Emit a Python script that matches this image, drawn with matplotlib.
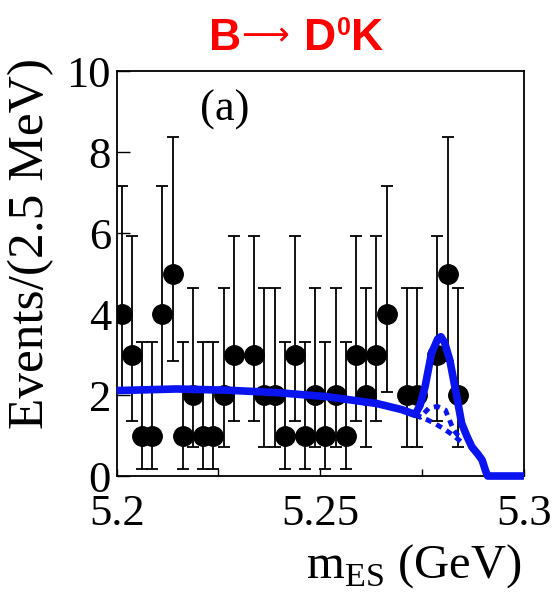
import numpy as np
import matplotlib.pyplot as plt
from matplotlib.ticker import FixedLocator

plt.rcParams['font.family'] = ['Liberation Serif', 'DejaVu Serif']
plt.rcParams['mathtext.fontset'] = 'custom'
plt.rcParams['mathtext.rm'] = 'Liberation Serif'

# mES histogram, 40 bins of 2.5 MeV
bin_lo, bin_w = 5.2, 0.0025
counts = [4, 3, 1, 1, 4, 5, 1, 2, 1, 1, 2, 3, 0, 3, 2, 2, 1, 3, 1, 2,
          1, 2, 1, 3, 2, 3, 4, 0, 2, 2, 0, 3, 5, 2, 0, 0, 0, 0, 0, 0]
# poisson 68% intervals for small n (lower, upper)
pois_lo = {1: 0.173, 2: 0.708, 3: 1.367, 4: 2.086, 5: 2.840}
pois_hi = {1: 3.300, 2: 4.638, 3: 5.918, 4: 7.163, 5: 8.382}

# fit: total pdf
fit_x = [5.2000, 5.2147, 5.2270, 5.2393, 5.2516, 5.2639, 5.2700, 5.2733,
         5.2745, 5.2757, 5.2773, 5.2788, 5.2796, 5.2805, 5.2818, 5.2835,
         5.2847, 5.2860, 5.2872, 5.2886, 5.2897, 5.2906, 5.2911, 5.3000]
fit_y = [2.11, 2.15, 2.12, 2.06, 1.96, 1.79, 1.64, 1.52,
         1.75, 2.20, 3.03, 3.38, 3.44, 3.30, 2.86, 1.96,
         1.30, 0.98, 0.72, 0.55, 0.40, 0.12, 0.0, 0.0]
# background components under the peak
bkg1_x = [5.2733, 5.2745, 5.2766, 5.2787, 5.2807, 5.2827, 5.2843]
bkg1_y = [1.52, 1.45, 1.67, 1.72, 1.63, 1.14, 0.94]
bkg2_x = [5.2733, 5.2760, 5.2781, 5.2807, 5.2827, 5.2845]
bkg2_y = [1.52, 1.40, 1.30, 1.14, 1.00, 0.85]

fig = plt.figure(figsize=(5.54, 5.98), dpi=100)
ax = fig.add_axes([0.2106, 0.204, 0.7352, 0.677])

n = np.array(counts)
xc = bin_lo + bin_w * (np.arange(len(n)) + 0.5)
sel = n > 0
lo = np.array([pois_lo[int(k)] for k in n[sel]])
hi = np.array([pois_hi[int(k)] for k in n[sel]])
ax.errorbar(xc[sel], n[sel], yerr=[n[sel] - lo, hi - n[sel]], fmt='o',
            color='black', ms=14, elinewidth=1.3, capsize=4, capthick=1.3,
            zorder=3)

blue = '#0a14f0'
ax.plot(bkg1_x, bkg1_y, color=blue, lw=3.5, ls=(0, (1.3, 1.1)), zorder=4)
ax.plot(bkg2_x, bkg2_y, color=blue, lw=3.5, ls=(0, (1.3, 1.1)), zorder=4)
ax.plot(fit_x, fit_y, color=blue, lw=5.5, solid_capstyle='butt',
        zorder=5, clip_on=False)

ax.set_xlim(5.2, 5.3)
ax.set_ylim(0, 10)
ax.set_xticks([5.2, 5.25, 5.3])
ax.set_xticklabels(['5.2', '5.25', '5.3'])
ax.xaxis.set_minor_locator(FixedLocator([5.225, 5.275]))
ax.set_yticks([0, 2, 4, 6, 8, 10])
ax.tick_params(axis='x', which='both', direction='in', length=5, width=1,
               labelsize=32, pad=13, top=False)
ax.tick_params(axis='y', which='major', direction='in', length=9, width=1,
               labelsize=32, pad=4, right=False)
for s in ax.spines.values():
    s.set_linewidth(1.3)

ax.text(0.266, 0.904, '(a)', transform=ax.transAxes, fontsize=32,
        ha='center', va='center')

fig.text(31 / 554, 1 - 243 / 598, 'Events/(2.5 MeV)', rotation=90,
         fontsize=37, ha='center', va='center')
fig.text(522 / 554, 1 - 566 / 598, r'm$_{\rm ES}$ (GeV)', fontsize=35,
         ha='right', va='center')

# decay title, built from pieces
red = '#ff0000'
sans = ['Liberation Sans', 'DejaVu Sans']
base = 1 - 50 / 598
fig.text(209 / 554, base, 'B', color=red, fontsize=32, fontweight='bold',
         family=sans, va='baseline')
fig.text(241 / 554, 1 - 45 / 598, '\u27f6', color=red, fontsize=24,
         family=['DejaVu Sans'], va='baseline')
fig.text(304 / 554, base, 'D', color=red, fontsize=32, fontweight='bold',
         family=sans, va='baseline')
fig.text(337 / 554, 1 - 35 / 598, '0', color=red, fontsize=18,
         fontweight='bold', family=sans, va='baseline')
fig.text(351 / 554, base, 'K', color=red, fontsize=32, fontweight='bold',
         family=sans, va='baseline')

fig.savefig('out.png', dpi=100)
